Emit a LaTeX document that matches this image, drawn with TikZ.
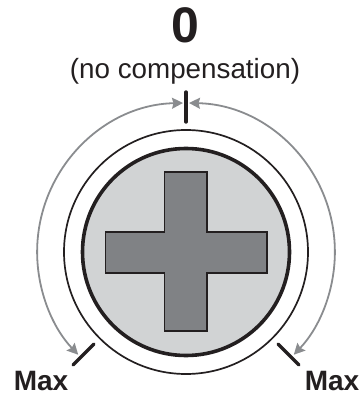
\documentclass[tikz,border=0pt]{standalone}
\usepackage{fontspec}
\setmainfont{Liberation Sans}
\usetikzlibrary{arrows.meta,positioning,calc}
\definecolor{dialInk}{HTML}{231F20}
\definecolor{dialGrey}{HTML}{8A8C8F}
\definecolor{dialFace}{HTML}{D1D3D4}
\definecolor{dialCross}{HTML}{808285}
\tikzset{
  ring/.style={circle,draw=dialInk,inner sep=0pt,outer sep=0pt},
  tick/.style={draw=dialInk,line width=3.4pt,line cap=round},
  arr/.style={{Stealth[length=11pt,width=11pt,inset=1.5pt]}-{Stealth[length=11pt,width=11pt,inset=1.5pt]},draw=dialGrey,line width=1.8pt},
  lbl/.style={text=dialInk,inner sep=0pt},
}
\begin{document}
\begin{tikzpicture}[x=1pt,y=-1pt]
  \useasboundingbox (0,0) rectangle (360,395);
  \node[ring,line width=1.7pt,minimum size=244pt] (outer) at (186,252) {};
  \node[ring,line width=3.6pt,fill=dialFace,minimum size=207pt] (face) at (186,252) {};
  \draw[draw=dialInk,fill=dialCross,line width=1.2pt]
    (164.5,172) -- (207,172) -- (207,232) -- (267,232) -- (267,273) -- (207,273)
    -- (207,331) -- (164.5,331) -- (164.5,273) -- (105.5,273) -- (105.5,232) -- (164.5,232) -- cycle;
  \node[lbl,font=\bfseries\fontsize{50}{50}\selectfont] (zero) at (185,25.5) {0};
  \node[lbl,font=\fontsize{27.8}{29}\selectfont] (note) at (185,71.5) {(no compensation)};
  \node[lbl,font=\bfseries\fontsize{28}{29}\selectfont] (maxl) at (41,381) {Max};
  \node[lbl,font=\bfseries\fontsize{28}{29}\selectfont] (maxr) at (332,381) {Max};
  \coordinate (topa) at (186,92);
  \coordinate (topb) at (186,122);
  \coordinate (lefta) at (73,365);
  \coordinate (leftb) at (94,344);
  \coordinate (righta) at (299,365);
  \coordinate (rightb) at (278,344);
  \coordinate (arcl) at (183,103);
  \coordinate (arcr) at (189,103);
  \draw[tick] (topa) -- (topb);
  \draw[tick] (lefta) -- (leftb);
  \draw[tick] (righta) -- (rightb);
  \draw[arr] (arcl) arc[start angle=-91.2,end angle=-223.6,radius=149];
  \draw[arr] (arcr) arc[start angle=-88.8,end angle=43.6,radius=149];
\end{tikzpicture}
\end{document}
